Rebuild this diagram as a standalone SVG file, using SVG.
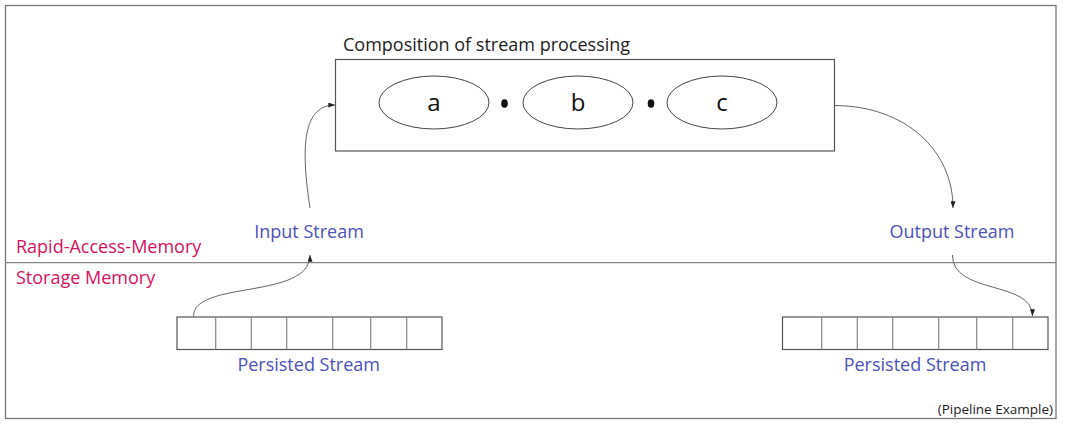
<svg xmlns="http://www.w3.org/2000/svg" width="1065" height="431" viewBox="0 0 1065 431">
<defs>
<marker id="arr" viewBox="0 0 8 6" refX="8" refY="3" markerWidth="7" markerHeight="5" orient="auto" markerUnits="userSpaceOnUse">
<path d="M0,0 L8,3 L0,6 Z" fill="#222"/>
</marker>
<style>
.box{fill:#fff;stroke:#555;stroke-width:1.2}
.cell{stroke:#888;stroke-width:1.2}
.ell{fill:#fff;stroke:#444;stroke-width:1}
.con{fill:none;stroke:#666;stroke-width:1;marker-end:url(#arr)}
.t{font-family:"Open Sans","Noto Sans",sans-serif;font-size:18px}
.blue{fill:#4b50bd}
.pink{fill:#d5105e}
</style>
</defs>
<rect x="0" y="0" width="1065" height="431" fill="#fff"/>
<g id="frame">
<rect x="5.5" y="5.5" width="1050.5" height="413" fill="none" stroke="#777" stroke-width="1.3"/>
<line x1="5.5" y1="262.7" x2="1056" y2="262.7" stroke="#888" stroke-width="1.2"/>
<text class="t pink" x="16" y="253">Rapid-Access-Memory</text>
<text class="t pink" x="16" y="284">Storage Memory</text>
<text class="t" x="1053" y="414" font-size="13.5" text-anchor="end" fill="#222" style="font-size:13.5px">(Pipeline Example)</text>
</g>
<g id="composition">
<rect class="box" x="335.5" y="59.5" width="499" height="91.5"/>
<text class="t" x="343" y="51" fill="#222">Composition of stream processing</text>
<g id="node-a"><ellipse class="ell" cx="434" cy="102.5" rx="55" ry="26.5"/><text class="t" x="434" y="111" text-anchor="middle" style="font-size:24px" fill="#111">a</text></g>
<ellipse cx="504.5" cy="103.5" rx="3.3" ry="4.3" fill="#111"/>
<g id="node-b"><ellipse class="ell" cx="578" cy="102.5" rx="55" ry="26.5"/><text class="t" x="578" y="111" text-anchor="middle" style="font-size:24px" fill="#111">b</text></g>
<ellipse cx="651" cy="103.5" rx="3.3" ry="4.3" fill="#111"/>
<g id="node-c"><ellipse class="ell" cx="722" cy="102.5" rx="55" ry="26.5"/><text class="t" x="722" y="111" text-anchor="middle" style="font-size:24px" fill="#111">c</text></g>
</g>
<g id="input-stream"><text class="t blue" x="309" y="238" text-anchor="middle">Input Stream</text></g>
<g id="output-stream"><text class="t blue" x="952" y="238" text-anchor="middle">Output Stream</text></g>
<g id="persisted-left">
<rect class="box" x="177" y="317" width="265" height="32.5"/>
<line class="cell" x1="215.7" y1="317" x2="215.7" y2="349.5"/>
<line class="cell" x1="251.3" y1="317" x2="251.3" y2="349.5"/>
<line class="cell" x1="286.7" y1="317" x2="286.7" y2="349.5"/>
<line class="cell" x1="332.7" y1="317" x2="332.7" y2="349.5"/>
<line class="cell" x1="370.7" y1="317" x2="370.7" y2="349.5"/>
<line class="cell" x1="406.7" y1="317" x2="406.7" y2="349.5"/>
<text class="t blue" x="308.7" y="371" text-anchor="middle">Persisted Stream</text>
</g>
<g id="persisted-right">
<rect class="box" x="782.5" y="317" width="265.5" height="32.5"/>
<line class="cell" x1="821.7" y1="317" x2="821.7" y2="349.5"/>
<line class="cell" x1="857.3" y1="317" x2="857.3" y2="349.5"/>
<line class="cell" x1="892.7" y1="317" x2="892.7" y2="349.5"/>
<line class="cell" x1="938.7" y1="317" x2="938.7" y2="349.5"/>
<line class="cell" x1="976.7" y1="317" x2="976.7" y2="349.5"/>
<line class="cell" x1="1012.7" y1="317" x2="1012.7" y2="349.5"/>
<text class="t blue" x="915" y="371" text-anchor="middle">Persisted Stream</text>
</g>
<g id="connectors">
<path class="con" d="M310,208 C302,155 300,105 335,105"/>
<path class="con" d="M835,105.5 C905,106 953,150 953,208"/>
<path class="con" d="M193.5,316.5 C193,280 310,300 310,255"/>
<path class="con" d="M952.5,255 C952,295 1032.5,280 1032.5,316"/>
</g>
</svg>
